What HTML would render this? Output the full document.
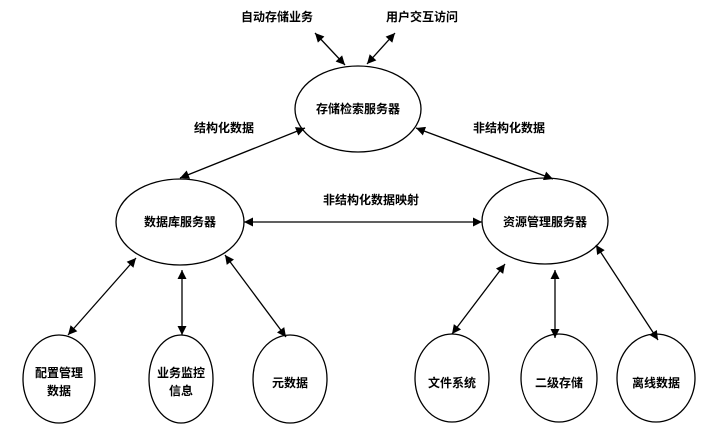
<!DOCTYPE html>
<html><head><meta charset="utf-8"><style>
html,body{margin:0;padding:0;background:#fff}
svg{display:block}
text{font-family:"Liberation Sans","Noto Sans CJK SC","WenQuanYi Zen Hei",sans-serif;font-size:12px;font-weight:bold;fill:#000}
</style></head><body>
<svg width="705" height="438" viewBox="0 0 705 438" xmlns="http://www.w3.org/2000/svg">
<defs>
<marker id="a" viewBox="0 0 10 10" refX="10" refY="5" markerWidth="13" markerHeight="9" orient="auto-start-reverse" markerUnits="userSpaceOnUse">
<path d="M0,0 L10,5 L0,10 z" fill="#000"/></marker>
</defs>
<g fill="none" stroke="#000" stroke-width="1.3">
<ellipse cx="358" cy="109" rx="63" ry="43"/>
<ellipse cx="180" cy="222" rx="64" ry="43"/>
<ellipse cx="545" cy="221" rx="63" ry="43"/>
<ellipse cx="59" cy="379" rx="36" ry="44"/>
<ellipse cx="181" cy="379" rx="32" ry="44"/>
<ellipse cx="290" cy="379" rx="37" ry="44"/>
<ellipse cx="452" cy="378" rx="37" ry="44"/>
<ellipse cx="559" cy="378" rx="38" ry="44"/>
<ellipse cx="656" cy="378" rx="39" ry="44"/>
</g>
<g stroke="#000" stroke-width="1.3" marker-start="url(#a)" marker-end="url(#a)">
<line x1="315" y1="33" x2="345" y2="65"/>
<line x1="395" y1="33" x2="367" y2="64"/>
<line x1="305" y1="128" x2="180" y2="178"/>
<line x1="416" y1="128" x2="553" y2="179"/>
<line x1="244" y1="222" x2="482" y2="222"/>
<line x1="136" y1="258" x2="68" y2="335"/>
<line x1="182" y1="270" x2="182" y2="335"/>
<line x1="225" y1="255" x2="286" y2="337"/>
<line x1="505" y1="264" x2="452" y2="334"/>
<line x1="555" y1="270" x2="555" y2="338"/>
<line x1="596" y1="245" x2="658" y2="340"/>
</g>
<text x="277" y="21" text-anchor="middle">自动存储业务</text>
<text x="422" y="21" text-anchor="middle">用户交互访问</text>
<text x="358" y="113" text-anchor="middle">存储检索服务器</text>
<text x="224" y="132" text-anchor="middle">结构化数据</text>
<text x="509" y="132" text-anchor="middle">非结构化数据</text>
<text x="371" y="204" text-anchor="middle">非结构化数据映射</text>
<text x="180" y="226" text-anchor="middle">数据库服务器</text>
<text x="545" y="226" text-anchor="middle">资源管理服务器</text>
<text x="59" y="377" text-anchor="middle">配置管理</text>
<text x="59" y="395" text-anchor="middle">数据</text>
<text x="181" y="377" text-anchor="middle">业务监控</text>
<text x="181" y="395" text-anchor="middle">信息</text>
<text x="290" y="387" text-anchor="middle">元数据</text>
<text x="452" y="387" text-anchor="middle">文件系统</text>
<text x="559" y="387" text-anchor="middle">二级存储</text>
<text x="656" y="387" text-anchor="middle">离线数据</text>
</svg>
</body></html>
